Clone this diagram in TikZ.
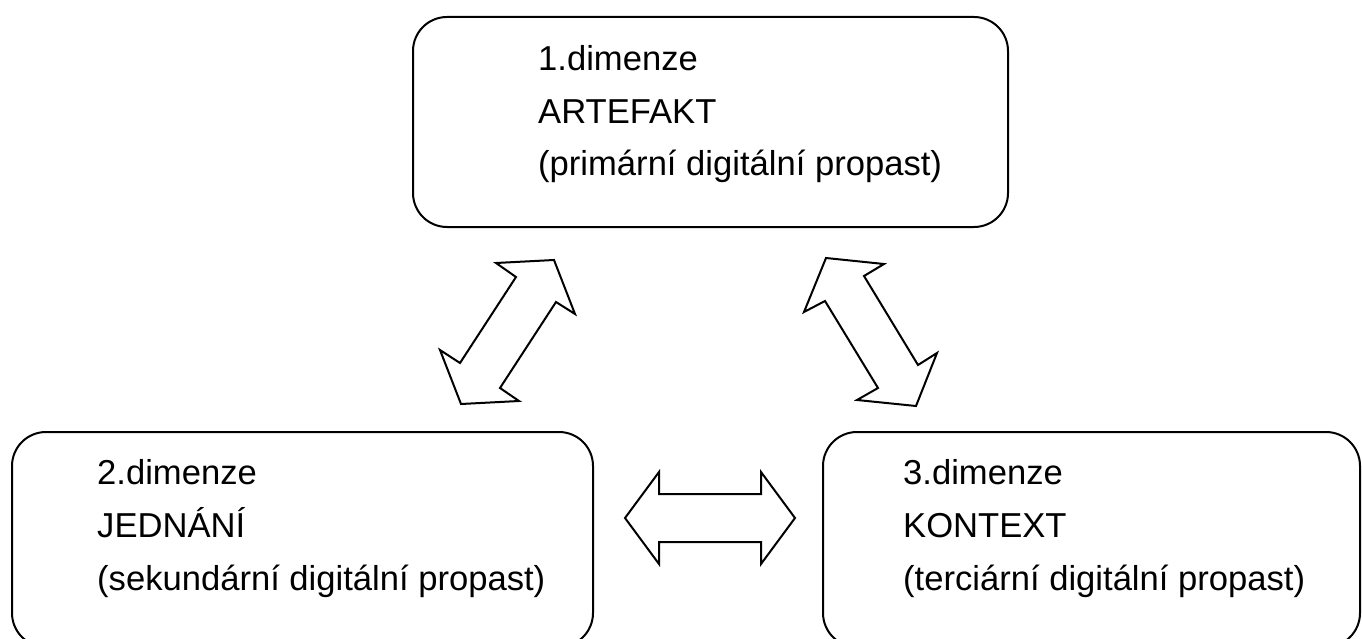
\documentclass[tikz,border=0pt]{standalone}
\usepackage{fontspec}
\setmainfont{Liberation Sans}
\begin{document}
\begin{tikzpicture}[x=1pt,y=-1pt,
  box/.style={draw=black,line width=2pt,rounded corners=34pt},
  lbl/.style={anchor=base west,inner sep=0pt,font=\fontsize{34.6}{42}\selectfont},
  blockarrow/.style={draw=black,line width=2pt,line join=miter,fill=white}]
\useasboundingbox (0,0) rectangle (1362,639);
\clip (0,0) rectangle (1362,639);
% boxes
\draw[box] (413,17) rectangle (1008,227);
\draw[box] (12,432) rectangle (593,647);
\draw[box] (823,432) rectangle (1360,647);
% texts
\node[lbl] (t1a) at (538,71) {1.dimenze};
\node[lbl] (t1b) at (538,123.5) {ARTEFAKT};
\node[lbl] (t1c) at (538,176) {(primární digitální propast)};
\node[lbl] (t2a) at (97,484) {2.dimenze};
\node[lbl] (t2b) at (97,537) {JEDNÁNÍ};
\node[lbl] (t2c) at (97,590) {(sekundární digitální propast)};
\node[lbl] (t3a) at (903,484) {3.dimenze};
\node[lbl] (t3b) at (903,537) {KONTEXT};
\node[lbl] (t3c) at (903,590) {(terciární digitální propast)};
% block arrows
\draw[blockarrow] (496,263) -- (554,260) -- (575,314) -- (556,302) -- (500,388) -- (519,401)
  -- (461,404) -- (440,350) -- (460,363) -- (516,277) -- cycle;
\draw[blockarrow] (826,258) -- (884,264) -- (864,276) -- (918,365) -- (937,353) -- (916,406)
  -- (857,400) -- (878,388) -- (825,301) -- (804,312) -- cycle;
\draw[blockarrow] (625,518) -- (659,472) -- (659,494) -- (761,494) -- (761,472) -- (795,518)
  -- (761,564) -- (761,542) -- (659,542) -- (659,564) -- cycle;
\end{tikzpicture}
\end{document}
